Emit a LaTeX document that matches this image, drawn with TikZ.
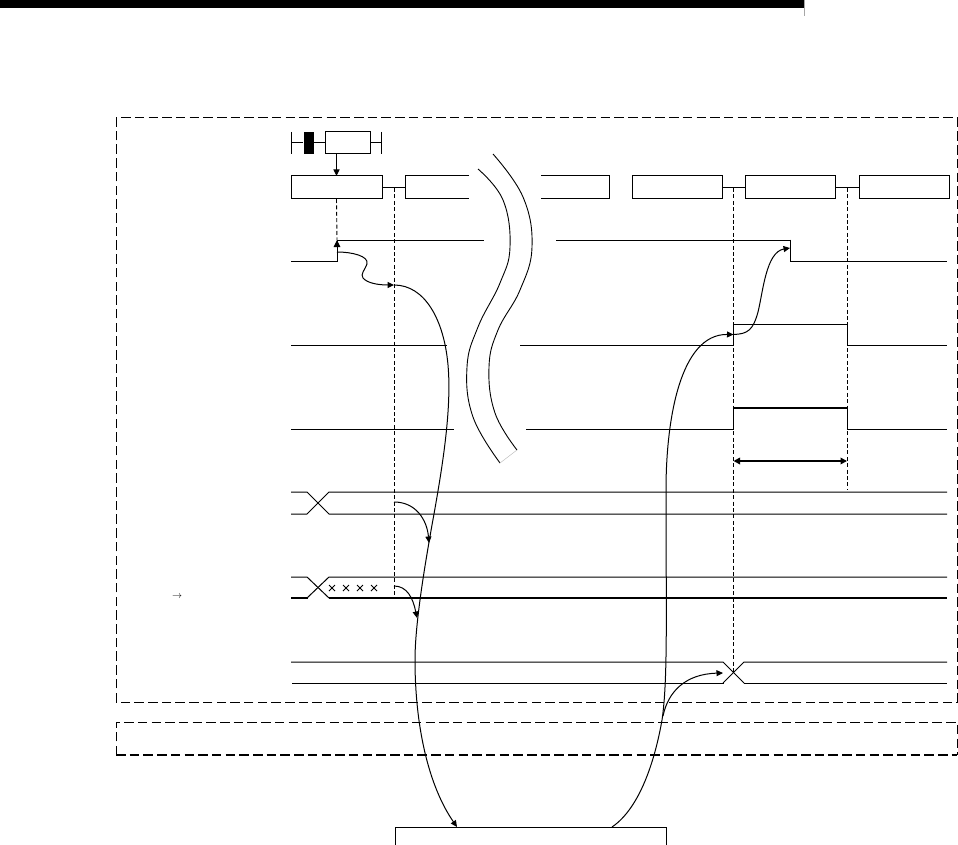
\documentclass[tikz,border=0pt]{standalone}
\usetikzlibrary{arrows.meta}
\tikzset{
  boxd/.style={draw=black,line width=1pt,fill=white,rectangle,inner sep=0pt,outer sep=0pt,minimum width=#1,minimum height=23pt},
  boxopen/.style={rectangle,inner sep=0pt,outer sep=0pt,minimum width=#1,minimum height=23pt},
  sig/.style={line width=1pt,line join=miter},
  thickline/.style={line width=1.8pt},
  guide/.style={line width=.9pt,dash pattern=on 4pt off 2.4pt},
  frameline/.style={line width=1pt,dash pattern=on 9.5pt off 4.2pt},
  curve/.style={line width=1pt,-{Triangle[length=6.5pt,width=6pt]}},
  plain curve/.style={line width=1pt},
  brk/.style={line width=.9pt}
}
\begin{document}
\begin{tikzpicture}[x=1pt,y=-1pt]
\useasboundingbox (0,0) rectangle (958,845);
% header bar
\fill[black] (0,0) rectangle (804,8);
\draw[line width=.8pt,black!35] (804.5,0) -- (804.5,16);
% frames
\draw[frameline] (116,702) -- (116,118) -- (957,118) -- (957,702) -- cycle;
\draw[frameline] (116,755) -- (116,722) -- (957,722) -- (957,755);
\draw[line width=1.7pt,dash pattern=on 9.5pt off 4.2pt] (116,755) -- (957,755);
% ladder
\node[boxd=45pt,minimum height=22pt] (contact) at (347.5,143) {};
\node[rectangle,fill=black,inner sep=0pt,minimum width=10pt,minimum height=22pt] (coil) at (308.5,143) {};
\coordinate (railL) at (291,143);
\coordinate (railR) at (381,143);
\draw[line width=1pt] (291,132) -- (291,154);
\draw[line width=1pt] (381,132) -- (381,154);
\draw[line width=1pt] (railL) -- (coil.west) (coil.east) -- (contact.west) (contact.east) -- (railR);
% step boxes
\node[boxd=91pt] (A) at (336.5,187.5) {};
\node[boxopen=64pt] (B) at (437,187.5) {};
\node[boxopen=68pt] (C) at (575,187.5) {};
\node[boxd=90pt] (D) at (677,187.5) {};
\node[boxd=90pt] (E) at (790,187.5) {};
\node[boxd=90pt] (F) at (904,187.5) {};
\draw[line width=1pt] (B.north east) -- (B.north west) -- (B.south west) -- (B.south east);
\draw[line width=1pt] (C.north west) -- (C.north east) -- (C.south east) -- (C.south west);
\draw[thickline] (A.east) -- (B.west);
\draw[thickline] (D.east) -- (E.west);
\draw[thickline] (E.east) -- (F.west);
\draw[curve] (contact.south -| A.north) -- (A.north);
% guides
\coordinate (g1) at (394,188);
\coordinate (g2) at (733.5,188);
\coordinate (g3) at (847,188);
\draw[guide] (A.south) -- (337,240);
\draw[guide] (g1) -- (394,598);
\draw[guide] (g2) -- (733.5,673);
\draw[guide] (g3) -- (847,490);
% signals
\draw[sig] (291,261) -- (337,261) -- (337,240) -- (484,240);
\draw[-{Triangle[length=7pt,width=6.5pt]},line width=1pt] (337,261) -- (337,240);
\draw[sig] (556,240) -- (790.5,240);
\draw[line width=1.8pt] (790.5,239.5) -- (790.5,261);
\draw[sig] (790,261) -- (947,261);
\draw[sig] (291,345) -- (447,345);
\draw[sig] (520,345) -- (733.5,345) -- (733.5,324) -- (847,324) -- (847,345) -- (947,345);
\draw[sig] (291,429) -- (454,429);
\draw[sig] (526,429) -- (733.5,429) -- (733.5,408);
\draw[thickline] (733,408) -- (847.5,408);
\draw[sig] (847,408) -- (847,429) -- (947,429);
\coordinate (dimL) at (733.5,461);
\coordinate (dimR) at (847,461);
\draw[thickline,{Triangle[length=6.5pt,width=6.5pt]}-{Triangle[length=6.5pt,width=6.5pt]}] (dimL) -- (dimR);
% bus 1
\draw[sig] (291,492) -- (307,492) -- (329,514) -- (947,514);
\draw[sig] (291,514) -- (307,514) -- (329,492) -- (947,492);
% bus 2
\draw[sig] (291,577) -- (307,577) -- (329,598);
\draw[sig] (307,598) -- (329,577) -- (947,577);
\draw[thickline] (291,598) -- (307.5,598);
\draw[thickline] (328.5,598) -- (947,598);
\foreach \xx in {332,346,360,374}{
  \draw[line width=.9pt] (\xx-3,585) -- (\xx+3,591) (\xx-3,591) -- (\xx+3,585);
}
% bus 3
\draw[sig] (291,662) -- (723,662) -- (744,683);
\draw[sig] (723,683) -- (744,662) -- (947,662);
\draw[thickline] (292,683.5) -- (723.5,683.5);
\draw[thickline] (743.5,683.5) -- (947,683.5);
% arrow sign
\node[inner sep=0pt] (sign) at (177,597) {$\rightarrow$};
% break
\draw[brk,smooth,tension=.7] plot coordinates {(478,169) (503,200) (510,247) (500,283) (478,327) (467,367) (473,417) (500,463)};
\draw[brk,smooth,tension=.7] plot coordinates {(493,154) (523,197) (532,247) (520,290) (498,330) (489,367) (495,413) (517,450)};
\draw[line width=.5pt,black!25] (500,463) -- (517,450);
% bottom box
\node[boxd=271pt,minimum height=18pt] (M) at (530.5,836) {};
% curves
\coordinate (s1) at (337,252);
\coordinate (n1) at (394,285);
\draw[curve] (s1) .. controls (352,252) and (369,256) .. (367,264)
   .. controls (365,270) and (360,274) .. (363,278)
   .. controls (367,283) and (378,285) .. (n1);
\draw[curve] (n1) .. controls (425,285) and (444,320) .. (448,365)
   .. controls (452,410) and (442,470) .. (432,525)
   .. controls (424,570) and (415,625) .. (415,660)
   .. controls (415,725) and (428,785) .. (457,827);
\coordinate (s3) at (394,502);
\coordinate (t3) at (429,543);
\draw[curve] (s3) .. controls (416,502) and (427,520) .. (t3);
\coordinate (s4) at (394,586);
\coordinate (t4) at (417,618);
\draw[curve] (s4) .. controls (407,586) and (413,598) .. (t4);
\coordinate (n2) at (733.5,334.5);
\draw[curve] (612,827) .. controls (640,808) and (655,760) .. (662,720)
   .. controls (668,680) and (666,610) .. (666,490)
   .. controls (666,420) and (680,334) .. (n2);
\coordinate (t6) at (723,673);
\draw[curve] (663,716) .. controls (668,692) and (685,674) .. (t6);
\coordinate (t7) at (790,248);
\draw[curve] (n2) .. controls (748,334) and (753,330) .. (758,312)
   .. controls (763,292) and (766,252) .. (t7);
\end{tikzpicture}
\end{document}
